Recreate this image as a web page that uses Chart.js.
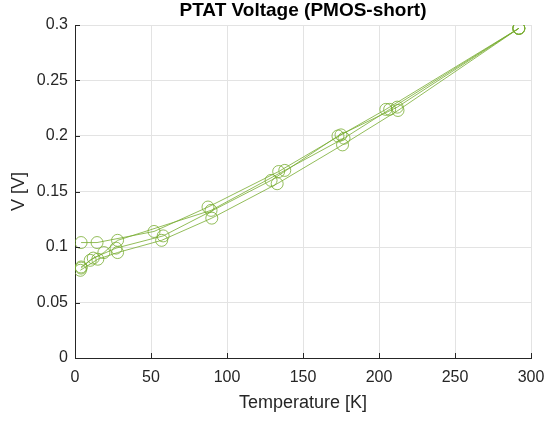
<!DOCTYPE html>
<html>
<head>
<meta charset="utf-8">
<script src="https://cdn.jsdelivr.net/npm/chart.js@4"></script>
<style>
  html, body { margin: 0; padding: 0; background: #fff; }
  #wrap { width: 546px; height: 421px; }
</style>
</head>
<body>
<div id="wrap"><canvas id="ptat"></canvas></div>
<script>
// measured sweeps: temperature [K] and PTAT voltage [V]
const sweep1T = [4, 14.5, 52, 87.5, 134, 175, 204.5, 292];
const sweep1V = [0.104, 0.104, 0.114, 0.136, 0.168, 0.201, 0.224, 0.297];
const sweep2T = [4, 10, 19, 28, 89.5, 138, 177, 207, 292];
const sweep2V = [0.081, 0.088, 0.095, 0.106, 0.133, 0.169, 0.198, 0.224, 0.297];
const sweep3T = [4, 12, 27, 58, 129, 173, 212, 292];
const sweep3V = [0.082, 0.090, 0.099, 0.110, 0.160, 0.200, 0.226, 0.297];
const sweep4T = [3.5, 15, 28, 57, 90, 133, 176, 212.5, 292];
const sweep4V = [0.079, 0.089, 0.095, 0.106, 0.126, 0.157, 0.192, 0.223, 0.297];

const xTicks = [0, 50, 100, 150, 200, 250, 300];
const yTicks = [0, 0.05, 0.1, 0.15, 0.2, 0.25, 0.3];

const GREEN = '#77AC30';
const AXIS = '#262626';
const FONT = "'Liberation Sans', Arial, sans-serif";

function toPoints(ts, vs) {
  return ts.map((t, i) => ({ x: t, y: vs[i] }));
}

function sweep(ts, vs) {
  return {
    data: toPoints(ts, vs),
    showLine: true,
    borderColor: GREEN,
    backgroundColor: 'rgba(0,0,0,0)',
    borderWidth: 0.8,
    pointRadius: 6,
    pointBorderWidth: 0.8,
    pointBorderColor: GREEN,
    pointBackgroundColor: 'rgba(0,0,0,0)'
  };
}

// short tick marks pointing into the plot, and the title centred over the axes
const axesDecor = {
  id: 'axesDecor',
  afterDatasetsDraw(chart) {
    const { ctx, chartArea: a, scales } = chart;
    ctx.save();
    ctx.strokeStyle = AXIS;
    ctx.lineWidth = 1;
    ctx.beginPath();
    xTicks.forEach(v => {
      const px = Math.round(scales.x.getPixelForValue(v)) + 0.5;
      ctx.moveTo(px, a.bottom);
      ctx.lineTo(px, a.bottom - 5);
    });
    yTicks.forEach(v => {
      const py = Math.round(scales.y.getPixelForValue(v)) + 0.5;
      ctx.moveTo(a.left, py);
      ctx.lineTo(a.left + 5, py);
    });
    ctx.stroke();

    ctx.fillStyle = '#000';
    ctx.font = 'bold 19px ' + FONT;
    ctx.textAlign = 'center';
    ctx.textBaseline = 'middle';
    ctx.fillText('PTAT Voltage (PMOS-short)', (a.left + a.right) / 2, 11);
    ctx.restore();
  }
};

new Chart(document.getElementById('ptat'), {
  type: 'scatter',
  data: {
    datasets: [
      sweep(sweep1T, sweep1V),
      sweep(sweep2T, sweep2V),
      sweep(sweep3T, sweep3V),
      sweep(sweep4T, sweep4V)
    ]
  },
  plugins: [axesDecor],
  options: {
    responsive: true,
    maintainAspectRatio: false,
    animation: false,
    layout: { padding: { left: 0, right: 15, top: 25, bottom: 4 } },
    plugins: {
      legend: { display: false },
      tooltip: { enabled: false },
      title: { display: false }
    },
    scales: {
      x: {
        type: 'linear',
        min: 0, max: 300,
        afterBuildTicks: s => { s.ticks = xTicks.map(v => ({ value: v })); },
        afterFit: s => { s.height = 59; s.paddingLeft = 0; s.paddingRight = 0; },
        grid: { color: '#e3e3e3', drawTicks: false },
        border: { color: AXIS, width: 1 },
        ticks: {
          color: AXIS,
          padding: 10,
          maxRotation: 0,
          font: { family: FONT, size: 16 },
          callback: v => String(v)
        },
        title: {
          display: true,
          text: 'Temperature [K]',
          color: AXIS,
          font: { family: FONT, size: 18 },
          padding: { top: 2, bottom: 3 }
        }
      },
      y: {
        type: 'linear',
        min: 0, max: 0.3,
        afterBuildTicks: s => { s.ticks = yTicks.map(v => ({ value: v })); },
        afterFit: s => { s.width = 75; s.paddingTop = 0; s.paddingBottom = 0; },
        grid: { color: '#e3e3e3', drawTicks: false },
        border: { color: AXIS, width: 1 },
        ticks: {
          color: AXIS,
          padding: 7,
          font: { family: FONT, size: 16 },
          callback: v => String(+v.toFixed(2))
        },
        title: {
          display: true,
          text: 'V [V]',
          color: AXIS,
          font: { family: FONT, size: 18 },
          padding: { top: 8, bottom: 4 }
        }
      }
    }
  }
});
</script>
</body>
</html>
